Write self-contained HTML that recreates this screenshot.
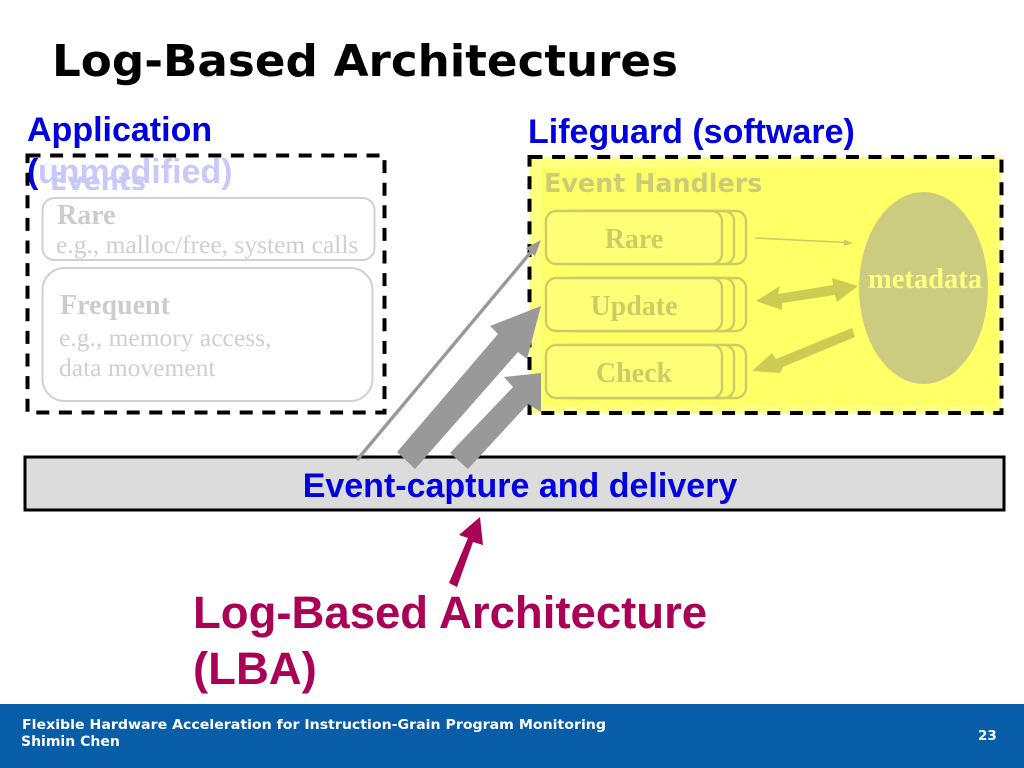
<!DOCTYPE html>
<html><head><meta charset="utf-8">
<style>html,body{margin:0;padding:0;background:#fff}svg{display:block}
.sans{font-family:"Liberation Sans",sans-serif;font-weight:bold}
.dv{font-family:"DejaVu Sans",sans-serif;font-weight:bold}
.serif{font-family:"Liberation Serif",serif}
.b{font-weight:bold}
</style></head><body>
<svg width="1024" height="768" viewBox="0 0 1024 768" xmlns="http://www.w3.org/2000/svg">
<rect width="1024" height="768" fill="#fff"/>
<text class="dv" x="52" y="76" font-size="44" fill="#000" textLength="626" lengthAdjust="spacingAndGlyphs">Log-Based Architectures</text>

<!-- left panel -->
<text class="sans" x="27" y="141" font-size="34" fill="#0000e0">Application</text>
<text class="sans" x="27" y="183" font-size="34" fill="#0000e0">(</text>
<rect x="27.5" y="155.5" width="357" height="257" fill="none" stroke="#000" stroke-width="4" stroke-dasharray="13 9.6"/>
<text class="sans" x="38" y="183" font-size="34" fill="#c8c8fa">unmodified)</text>
<text class="dv" x="50" y="190" font-size="25.3" fill="#c8c8fa">Events</text>
<rect x="42.5" y="198" width="332" height="62" rx="12" fill="none" stroke="#d0d0d0" stroke-width="2"/>
<text class="serif b" x="57" y="224" font-size="28" fill="#cccccc">Rare</text>
<text class="serif" x="56" y="253" font-size="25.5" fill="#cfcfcf">e.g., malloc/free, system calls</text>
<rect x="42.5" y="268" width="330" height="133" rx="22" fill="none" stroke="#d0d0d0" stroke-width="2"/>
<text class="serif b" x="60" y="314" font-size="28" fill="#cccccc">Frequent</text>
<text class="serif" x="59" y="346" font-size="25.5" fill="#cfcfcf">e.g., memory access,</text>
<text class="serif" x="59" y="376" font-size="25.5" fill="#cfcfcf">data movement</text>

<!-- right panel -->
<text class="sans" x="528" y="143" font-size="34" fill="#0000e0">Lifeguard (software)</text>
<rect x="529" y="157" width="472" height="256" fill="#ffff80"/>
<rect x="529.5" y="157" width="472" height="256" fill="none" stroke="#000" stroke-width="4" stroke-dasharray="13 9.6"/>

<!-- bar -->
<rect x="25" y="457" width="979" height="53" fill="#dcdcdc" stroke="#000" stroke-width="3"/>
<text class="sans" x="520" y="497" font-size="34" fill="#0000e0" text-anchor="middle">Event-capture and delivery</text>

<!-- gray arrows -->
<polygon points="541,306 490,326 498,334 397,452 415,469 518,352 527,359" fill="#999"/>
<polygon points="541,373 504,377 513,387 450,453 468,469 528,404 541,412" fill="#999"/>
<line x1="357" y1="460" x2="536" y2="246" stroke="#999" stroke-width="3.4"/>
<polygon points="541,240 526,248 535,256" fill="#999"/>

<rect x="541" y="168" width="454" height="237" fill="#ffff66"/>

<text class="dv" x="544" y="192" font-size="25.4" fill="#cccc77">Event Handlers</text>

<!-- stacks -->
<g fill="#ffff66" stroke="#cccc66" stroke-width="2.4">
<rect x="570" y="211" width="176" height="53" rx="10"/>
<rect x="558" y="211" width="176" height="53" rx="10"/>
<rect x="546" y="211" width="176" height="53" rx="10" fill="#ffff77"/>
<rect x="570" y="278" width="176" height="53" rx="10"/>
<rect x="558" y="278" width="176" height="53" rx="10"/>
<rect x="546" y="278" width="176" height="53" rx="10" fill="#ffff77"/>
<rect x="570" y="345" width="176" height="53" rx="10"/>
<rect x="558" y="345" width="176" height="53" rx="10"/>
<rect x="546" y="345" width="176" height="53" rx="10" fill="#ffff77"/>
</g>
<g class="serif b" font-size="28" fill="#cccc66" text-anchor="middle">
<text x="634" y="248">Rare</text>
<text x="634" y="315">Update</text>
<text x="634" y="382">Check</text>
</g>

<ellipse cx="923.5" cy="288" rx="64.5" ry="96" fill="#cccc80"/>
<text class="serif b" x="925" y="288" font-size="28.5" fill="#ffff80" text-anchor="middle">metadata</text>

<!-- inner arrows -->
<line x1="755" y1="238" x2="846" y2="242.5" stroke="#cccc66" stroke-width="1.6"/>
<polygon points="853,243 844,239.5 844,246" fill="#cccc66"/>
<polygon points="756,301 780,286 778,294 833,285 832,278 858,286 837,302 835,295 782,303 782,310" fill="#cccc55"/>
<polygon points="752,371 772,353 776,359 852,328 855,337 783,367 780,373" fill="#cccc55"/>

<!-- LBA -->
<polygon points="480,517 459,535 468,538 449,583 457,587 473,542 483,545" fill="#aa0055"/>
<text class="sans" x="193" y="628" font-size="45.5" fill="#aa0055">Log-Based Architecture</text>
<text class="sans" x="193" y="684" font-size="45.5" fill="#aa0055">(LBA)</text>

<!-- footer -->
<rect x="0" y="704" width="1024" height="64" fill="#075da8"/>
<text class="dv" x="22" y="729" font-size="13.5" fill="#fff" textLength="584" lengthAdjust="spacingAndGlyphs">Flexible Hardware Acceleration for Instruction-Grain Program Monitoring</text>
<text class="dv" x="21" y="746" font-size="14" fill="#fff">Shimin Chen</text>
<text class="dv" x="978" y="740" font-size="13.5" fill="#fff">23</text>
</svg>
</body></html>
